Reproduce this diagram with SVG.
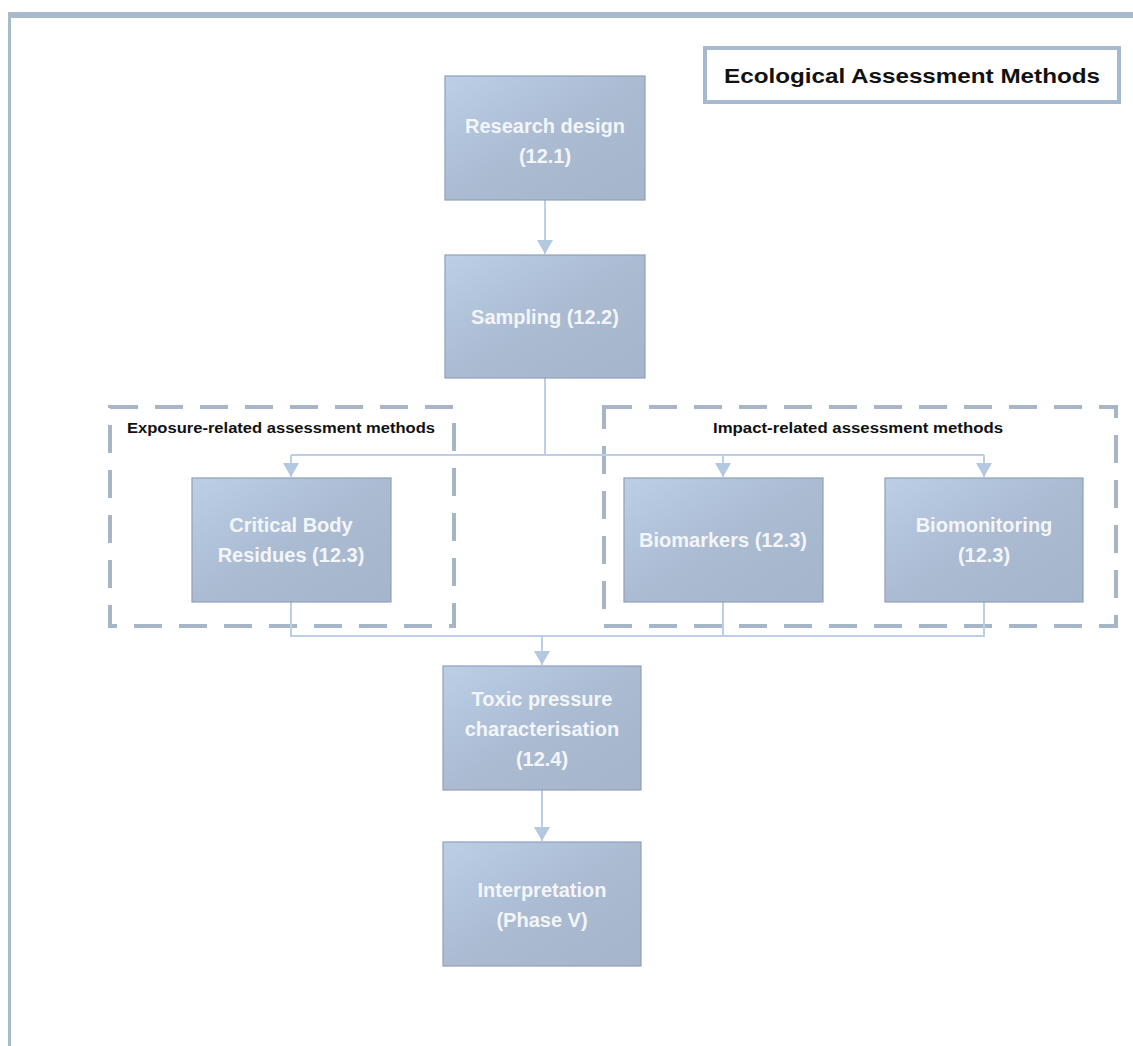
<svg xmlns="http://www.w3.org/2000/svg" width="1133" height="1046" viewBox="0 0 1133 1046">
<defs>
<linearGradient id="boxg" x1="0" y1="0" x2="1" y2="1">
<stop offset="0" stop-color="#bccfe7"/>
<stop offset="0.5" stop-color="#aabbd2"/>
<stop offset="1" stop-color="#a5b5cb"/>
</linearGradient>
<marker id="arr" viewBox="0 0 14 16" refX="14" refY="8" markerWidth="14" markerHeight="16" markerUnits="userSpaceOnUse" orient="auto">
<path d="M0,0 L14,8 L0,16 Z" fill="#b4c8e2"/>
</marker>
</defs>
<style>
.box{fill:url(#boxg);stroke:#8fa1b8;stroke-width:1.2}
.bt{font-family:"Liberation Sans",Arial,sans-serif;font-weight:bold;font-size:20px;fill:#f3f5f8;text-anchor:middle}
.grp{fill:none;stroke:#a6b5c8;stroke-width:4;stroke-dasharray:28 17}
.gl{font-family:"Liberation Sans",Arial,sans-serif;font-weight:bold;font-size:14.5px;fill:#111}
.c{fill:none;stroke:#bccfe6;stroke-width:2}
</style>
<rect width="1133" height="1046" fill="#ffffff"/>
<g id="frame">
<rect x="8" y="12" width="1125" height="6" fill="#a9bacd"/>
<rect x="8" y="12" width="3" height="1034" fill="#a9bacd"/>
</g>
<g id="title">
<rect x="705" y="48" width="414" height="54" fill="#ffffff" stroke="#a6b9cf" stroke-width="4"/>
<text x="912" y="83" font-family="Liberation Sans,Arial,sans-serif" font-weight="bold" font-size="20" fill="#111" text-anchor="middle" textLength="376" lengthAdjust="spacingAndGlyphs">Ecological Assessment Methods</text>
</g>
<g id="group-exposure">
<rect class="grp" x="110" y="407" width="344" height="219"/>
<text class="gl" x="127" y="433" textLength="308" lengthAdjust="spacingAndGlyphs">Exposure-related assessment methods</text>
</g>
<g id="group-impact">
<rect class="grp" x="604" y="407" width="512" height="219"/>
<text class="gl" x="858" y="433" text-anchor="middle" textLength="290" lengthAdjust="spacingAndGlyphs">Impact-related assessment methods</text>
</g>
<g id="connectors">
<path class="c" d="M545,200 V254" marker-end="url(#arr)"/>
<path class="c" d="M545,378 V455"/>
<path class="c" d="M291,455 H984"/>
<path class="c" d="M291,455 V477" marker-end="url(#arr)"/>
<path class="c" d="M723,455 V477" marker-end="url(#arr)"/>
<path class="c" d="M984,455 V477" marker-end="url(#arr)"/>
<path class="c" d="M291,602 V636 H984 V602"/>
<path class="c" d="M723,602 V636"/>
<path class="c" d="M542,636 V665" marker-end="url(#arr)"/>
<path class="c" d="M542,790 V841" marker-end="url(#arr)"/>
</g>
<g id="research-design">
<rect class="box" x="445" y="76" width="200" height="124"/>
<text class="bt" x="545" y="133">Research design</text>
<text class="bt" x="545" y="163">(12.1)</text>
</g>
<g id="sampling">
<rect class="box" x="445" y="255" width="200" height="123"/>
<text class="bt" x="545" y="324">Sampling (12.2)</text>
</g>
<g id="critical-body-residues">
<rect class="box" x="192" y="478" width="199" height="124"/>
<text class="bt" x="291" y="532">Critical Body</text>
<text class="bt" x="291" y="562">Residues (12.3)</text>
</g>
<g id="biomarkers">
<rect class="box" x="624" y="478" width="199" height="124"/>
<text class="bt" x="723" y="547">Biomarkers (12.3)</text>
</g>
<g id="biomonitoring">
<rect class="box" x="885" y="478" width="198" height="124"/>
<text class="bt" x="984" y="532">Biomonitoring</text>
<text class="bt" x="984" y="562">(12.3)</text>
</g>
<g id="toxic-pressure">
<rect class="box" x="443" y="666" width="198" height="124"/>
<text class="bt" x="542" y="706">Toxic pressure</text>
<text class="bt" x="542" y="736">characterisation</text>
<text class="bt" x="542" y="766">(12.4)</text>
</g>
<g id="interpretation">
<rect class="box" x="443" y="842" width="198" height="124"/>
<text class="bt" x="542" y="897">Interpretation</text>
<text class="bt" x="542" y="927">(Phase V)</text>
</g>
</svg>
